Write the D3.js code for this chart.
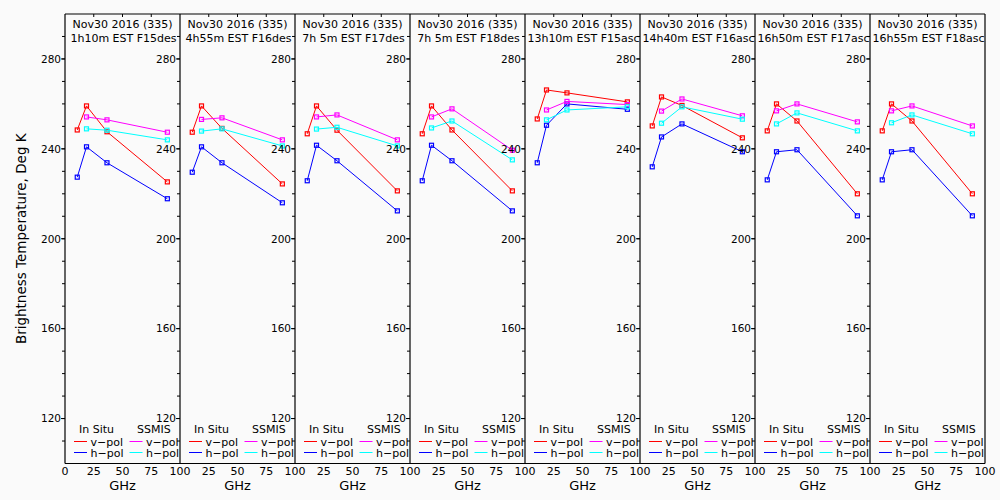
<!DOCTYPE html>
<html><head><meta charset="utf-8">
<script src="https://cdn.jsdelivr.net/npm/d3@7/dist/d3.min.js"></script>
<style>
html,body{margin:0;padding:0;background:#fafafa;}
svg{display:block;}
text{font-family:"DejaVu Sans",sans-serif;fill:#000;}
</style></head>
<body>
<svg id="chart" width="1000" height="500"></svg>
<script>
// ---------- data ----------
const titleLine1 = ["Nov30 2016 (335)","Nov30 2016 (335)","Nov30 2016 (335)","Nov30 2016 (335)",
                    "Nov30 2016 (335)","Nov30 2016 (335)","Nov30 2016 (335)","Nov30 2016 (335)"];
const titleLine2 = ["1h10m EST F15des","4h55m EST F16des","7h 5m EST F17des","7h 5m EST F18des",
                    "13h10m EST F15asc","14h40m EST F16asc","16h50m EST F17asc","16h55m EST F18asc"];
const freqInSitu = [10.65, 18.7, 36.5, 89.0];
const freqSSMIS  = [18.7, 36.5, 89.0];
const inSituV = [
  [248.4, 259.1, 247.6, 225.3],
  [247.4, 259.1, 249.1, 224.4],
  [246.7, 259.1, 248.3, 221.3],
  [246.7, 259.1, 248.4, 221.3],
  [253.3, 266.2, 264.9, 260.9],
  [250.2, 263.1, 259.3, 244.9],
  [248.0, 260.0, 252.4, 220.0],
  [248.0, 260.0, 252.4, 220.0]
];
const inSituH = [
  [227.4, 240.9, 233.8, 217.8],
  [229.6, 240.9, 233.8, 216.0],
  [225.8, 241.6, 234.7, 212.4],
  [225.8, 241.6, 234.7, 212.4],
  [233.8, 250.5, 260.0, 257.6],
  [232.0, 245.3, 251.1, 238.7],
  [226.2, 238.7, 239.6, 210.2],
  [226.2, 238.7, 239.6, 210.2]
];
const ssmisV = [
  [254.2, 252.9, 247.4],
  [253.1, 253.8, 244.0],
  [254.2, 255.1, 244.0],
  [254.2, 257.8, 239.4],
  [257.3, 261.1, 259.7],
  [256.8, 262.2, 254.7],
  [256.9, 260.0, 252.0],
  [256.9, 259.1, 250.2]
];
const ssmisH = [
  [248.9, 248.3, 244.0],
  [247.9, 248.9, 241.3],
  [248.8, 249.6, 241.3],
  [249.3, 252.4, 235.1],
  [252.9, 257.3, 258.7],
  [251.4, 258.7, 253.2],
  [251.1, 256.0, 248.0],
  [251.6, 255.1, 246.7]
];
const yMajorTicks = [120, 160, 200, 240, 280];
const xTicks = [0, 25, 50, 75, 100];
const seriesColors = {inV:"#ff0000", inH:"#0000ff", ssV:"#ff00ff", ssH:"#00ffff"};

// ---------- layout ----------
const svg = d3.select("#chart");
const nPanels = 8;
const left0 = 65, panelW = 115, plotTop = 14, plotBottom = 463.5;
const y = d3.scaleLinear().domain([100, 300]).range([plotBottom, plotTop]);
const yMinor = d3.range(110, 300, 10);

svg.append("rect").attr("width",1000).attr("height",500).attr("fill","#fafafa");

for (let p = 0; p < nPanels; p++) {
  const x0 = left0 + p * panelW;
  const x = d3.scaleLinear().domain([0, 100]).range([x0, x0 + panelW]);
  const g = svg.append("g");

  // data series
  const series = [
    {f: freqInSitu, v: inSituV[p], c: seriesColors.inV},
    {f: freqInSitu, v: inSituH[p], c: seriesColors.inH},
    {f: freqSSMIS,  v: ssmisV[p],  c: seriesColors.ssV},
    {f: freqSSMIS,  v: ssmisH[p],  c: seriesColors.ssH}
  ];
  const line = d3.line().x(d => x(d[0])).y(d => y(d[1]));
  series.forEach(s => {
    const pts = s.f.map((f, i) => [f, s.v[i]]);
    g.append("path").attr("d", line(pts)).attr("fill","none")
      .attr("stroke", s.c).attr("stroke-width", 1);
    g.selectAll(null).data(pts).enter().append("rect")
      .attr("x", d => x(d[0]) - 2).attr("y", d => y(d[1]) - 2)
      .attr("width", 4).attr("height", 4)
      .attr("fill","none").attr("stroke", s.c).attr("stroke-width", 1.2);
  });

  // frame
  g.append("line").attr("x1", x0).attr("x2", x0).attr("y1", plotTop).attr("y2", plotBottom)
    .attr("stroke","#000").attr("stroke-width",1.2);

  // y ticks (outward, left)
  g.selectAll(null).data(yMinor).enter().append("line")
    .attr("x1", x0 - 3).attr("x2", x0).attr("y1", d => y(d)).attr("y2", d => y(d))
    .attr("stroke","#000");
  g.selectAll(null).data(yMajorTicks).enter().append("line")
    .attr("x1", x0 - 4).attr("x2", x0).attr("y1", d => y(d)).attr("y2", d => y(d))
    .attr("stroke","#000");
  g.selectAll(null).data(yMajorTicks).enter().append("text")
    .attr("x", x0 - 4).attr("y", d => y(d) + 3.8)
    .attr("text-anchor","end").attr("font-size", 10.5).text(d => d);

  // top x ticks
  g.selectAll(null).data([25, 50, 75]).enter().append("line")
    .attr("x1", d => x(d)).attr("x2", d => x(d)).attr("y1", plotTop).attr("y2", plotTop + 3)
    .attr("stroke","#000");

  // x tick labels
  const lbls = p === 0 ? xTicks : xTicks.slice(1);
  g.selectAll(null).data(lbls).enter().append("text")
    .attr("x", d => x(d)).attr("y", 474.5)
    .attr("text-anchor","middle").attr("font-size", 11).text(d => d);

  g.append("text").attr("x", x(50)).attr("y", 490)
    .attr("text-anchor","middle").attr("font-size", 13).text("GHz");

  // titles
  g.append("text").attr("x", x(50)).attr("y", 28)
    .attr("text-anchor","middle").attr("font-size", 11).text(titleLine1[p]);
  g.append("text").attr("x", x(50) + 1).attr("y", 42)
    .attr("text-anchor","middle").attr("font-size", 11)
    .attr("xml:space","preserve").text(titleLine2[p]);

  // legend
  const lg = g.append("g").attr("font-size", 11);
  lg.append("text").attr("x", x0 + 14).attr("y", 432.5).text("In Situ");
  lg.append("text").attr("x", x0 + 72).attr("y", 432.5).text("SSMIS");
  const rows = [
    {lab:"v-pol", yy:441.5, c1:seriesColors.inV, c2:seriesColors.ssV},
    {lab:"h-pol", yy:452.5, c1:seriesColors.inH, c2:seriesColors.ssH}
  ];
  rows.forEach(r => {
    lg.append("line").attr("x1", x0 + 9).attr("x2", x0 + 22).attr("y1", r.yy).attr("y2", r.yy)
      .attr("stroke", r.c1);
    lg.append("text").attr("x", x0 + 25.5).attr("y", r.yy + 4).text(r.lab.replace("-", "\u2212"));
    lg.append("line").attr("x1", x0 + 64.5).attr("x2", x0 + 77.5).attr("y1", r.yy).attr("y2", r.yy)
      .attr("stroke", r.c2);
    lg.append("text").attr("x", x0 + 81).attr("y", r.yy + 4).text(r.lab.replace("-", "\u2212"));
  });
}

// outer frame lines
const xR = left0 + nPanels * panelW;
svg.append("line").attr("x1", left0).attr("x2", xR).attr("y1", plotTop).attr("y2", plotTop)
  .attr("stroke","#000").attr("stroke-width",1.2);
svg.append("line").attr("x1", left0).attr("x2", xR).attr("y1", plotBottom).attr("y2", plotBottom)
  .attr("stroke","#000").attr("stroke-width",1.2);
svg.append("line").attr("x1", xR).attr("x2", xR).attr("y1", plotTop).attr("y2", plotBottom)
  .attr("stroke","#000").attr("stroke-width",1.2);

// y axis title
svg.append("text").attr("transform", `translate(26,${(plotTop + plotBottom) / 2}) rotate(-90)`)
  .attr("text-anchor","middle").attr("font-size", 13.5)
  .text("Brightness Temperature, Deg K");
</script>
</body></html>
